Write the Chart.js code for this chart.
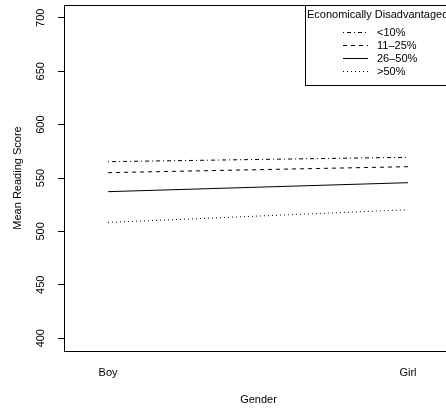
<!DOCTYPE html>
<html>
<head>
<meta charset="utf-8">
<script src="https://cdn.jsdelivr.net/npm/chart.js@4"></script>
<style>
  html, body { margin: 0; padding: 0; overflow: hidden; background: #fff; }
  canvas { display: block; }
</style>
</head>
<body>
<canvas id="chart" width="460" height="410"></canvas>
<script>
const genders = ['Boy', 'Girl'];
const groups = ['<10%', '11\u201325%', '26\u201350%', '>50%'];
const lowest = [565.3, 569.4];
const lowMid = [555.0, 560.6];
const highMid = [537.2, 545.6];
const highest = [508.4, 520.3];
const yTicks = [400, 450, 500, 550, 600, 650, 700];

const seriesValues = [lowest, lowMid, highMid, highest];
const dashes = [[1, 3, 4, 3], [4, 4], [], [1, 3]];
const font = { family: '"Liberation Sans", Arial, sans-serif', size: 11 };

// box round the plot and the legend in its top-right corner
const framePlugin = {
    id: 'frame',
    afterDraw(chart) {
        const ctx = chart.ctx;
        const a = chart.chartArea;
        ctx.save();
        ctx.strokeStyle = '#000';
        ctx.lineWidth = 1;
        ctx.strokeRect(a.left + 0.5, a.top + 0.5, a.right - a.left, a.bottom - a.top);

        const boxLeft = 305;
        const boxTop = a.top;
        const boxBottom = a.top + 80;
        ctx.fillStyle = '#fff';
        ctx.fillRect(boxLeft, boxTop, a.right - boxLeft, boxBottom - boxTop);
        ctx.strokeRect(boxLeft + 0.5, boxTop + 0.5, a.right - boxLeft, boxBottom - boxTop);

        ctx.fillStyle = '#000';
        ctx.font = font.size + 'px ' + font.family;
        ctx.textBaseline = 'middle';
        ctx.textAlign = 'left';
        ctx.fillText('Economically Disadvantaged', boxLeft + 2, boxTop + 10);

        chart.data.datasets.forEach((ds, i) => {
            const y = boxTop + 27 + i * 13;
            ctx.beginPath();
            ctx.setLineDash(ds.borderDash);
            ctx.moveTo(343, y + 0.5);
            ctx.lineTo(368, y + 0.5);
            ctx.stroke();
            ctx.setLineDash([]);
            ctx.fillText(ds.label, 377, y + 1);
        });
        ctx.restore();
    }
};

new Chart(document.getElementById('chart'), {
    type: 'line',
    data: {
        datasets: groups.map((g, i) => ({
            label: g,
            data: seriesValues[i].map((v, j) => ({ x: j + 1, y: v })),
            borderColor: '#000',
            borderWidth: 1,
            borderDash: dashes[i],
            pointRadius: 0,
            fill: false,
            tension: 0
        }))
    },
    options: {
        responsive: false,
        animation: false,
        layout: { padding: { top: 5, right: 7, left: 0, bottom: 0 } },
        plugins: { legend: { display: false }, tooltip: { enabled: false } },
        scales: {
            x: {
                type: 'linear',
                min: 0.853,
                max: 2.15,
                afterBuildTicks: s => { s.ticks = genders.map((g, i) => ({ value: i + 1 })); },
                afterFit: s => { s.height = 59; s.paddingLeft = 0; s.paddingRight = 0; },
                ticks: {
                    color: '#000',
                    font: font,
                    padding: 15,
                    callback: v => genders[v - 1]
                },
                grid: { display: false, drawTicks: false },
                border: { display: false },
                title: { display: true, text: 'Gender', color: '#000', font: font, padding: { top: 0, bottom: 3 } }
            },
            y: {
                min: 388,
                max: 712,
                afterBuildTicks: s => { s.ticks = yTicks.map(v => ({ value: v })); },
                afterFit: s => { s.width = 64; s.paddingTop = 0; s.paddingBottom = 0; },
                ticks: {
                    color: '#000',
                    font: font,
                    minRotation: 90,
                    maxRotation: 90,
                    crossAlign: 'center',
                    padding: 8
                },
                grid: { drawOnChartArea: false, drawTicks: true, tickLength: 6, color: '#000', lineWidth: 1 },
                border: { display: false },
                title: { display: true, text: 'Mean Reading Score', color: '#000', font: font, padding: { top: 11, bottom: 0 } }
            }
        }
    },
    plugins: [framePlugin]
});
</script>
</body>
</html>
